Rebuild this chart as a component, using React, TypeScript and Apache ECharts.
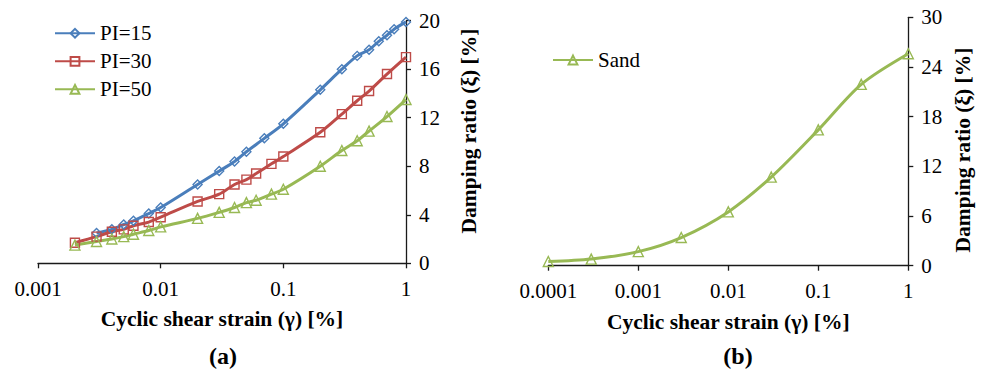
import React, { useEffect, useRef } from "react";
import * as echarts from "echarts";

const strainPI15 = [0.003, 0.004, 0.005, 0.006, 0.008, 0.01, 0.02, 0.03, 0.04, 0.05, 0.07, 0.1, 0.2, 0.3, 0.4, 0.5, 0.6, 0.7, 0.8, 1];
const dampPI15 = [2.5, 2.8, 3.2, 3.5, 4.1, 4.6, 6.5, 7.6, 8.4, 9.2, 10.3, 11.5, 14.3, 16.0, 17.1, 17.6, 18.3, 18.8, 19.3, 19.9];

const strainPI30 = [0.002, 0.003, 0.004, 0.005, 0.006, 0.008, 0.01, 0.02, 0.03, 0.04, 0.05, 0.06, 0.08, 0.1, 0.2, 0.3, 0.4, 0.5, 0.7, 1];
const dampPI30 = [1.7, 2.2, 2.6, 2.8, 3.1, 3.4, 3.8, 5.1, 5.7, 6.5, 6.9, 7.4, 8.2, 8.8, 10.8, 12.3, 13.4, 14.2, 15.6, 17.0];

const strainPI50 = [0.002, 0.003, 0.004, 0.005, 0.006, 0.008, 0.01, 0.02, 0.03, 0.04, 0.05, 0.06, 0.08, 0.1, 0.2, 0.3, 0.4, 0.5, 0.7, 1];
const dampPI50 = [1.5, 1.8, 2.0, 2.2, 2.4, 2.7, 3.0, 3.7, 4.2, 4.6, 5.0, 5.2, 5.7, 6.1, 8.0, 9.3, 10.1, 10.9, 12.1, 13.5];

const strainSand = [0.0001, 0.0003, 0.001, 0.003, 0.01, 0.03, 0.1, 0.3, 1];
const dampSand = [0.5, 0.8, 1.7, 3.4, 6.5, 10.7, 16.4, 21.9, 25.6];

const seriesNamesA = ["PI=15", "PI=30", "PI=50"];
const seriesNameB = "Sand";
const xAxisTitle = "Cyclic shear strain (γ) [%]";
const yAxisTitle = "Damping ratio (ξ) [%]";
const panelLabels = ["(a)", "(b)"];

const SERIF = "Liberation Serif";
const AXIS_COLOR = "#1a1a1a";
const BLUE = "#4A7EBB";
const RED = "#BE4B48";
const GREEN = "#98B954";

const zip = (xs: number[], ys: number[]) => xs.map((x, i) => [x, ys[i]]);

const fmtLog = (v: number) => String(Number(v.toPrecision(6)));

function xAxisCfg(gridIndex: number, min: number, max: number) {
  return {
    type: "log",
    logBase: 10,
    gridIndex,
    min,
    max,
    name: xAxisTitle,
    nameLocation: "middle",
    nameGap: 45,
    nameTextStyle: { fontFamily: SERIF, fontWeight: "bold", fontSize: 21.5, color: "#000" },
    axisLine: { show: true, lineStyle: { color: AXIS_COLOR, width: 1.3 } },
    axisTick: { show: true, inside: false, length: 5, lineStyle: { color: AXIS_COLOR, width: 1.3 } },
    minorTick: { show: false },
    splitLine: { show: false },
    axisLabel: { fontFamily: SERIF, fontSize: 21, color: "#000", margin: 15, formatter: fmtLog },
  };
}

function yAxisCfg(gridIndex: number, max: number, interval: number) {
  return {
    type: "value",
    gridIndex,
    position: "right",
    min: 0,
    max,
    interval,
    axisLine: { show: true, lineStyle: { color: AXIS_COLOR, width: 1.3 } },
    axisTick: { show: true, inside: false, length: 5, lineStyle: { color: AXIS_COLOR, width: 1.3 } },
    splitLine: { show: false },
    axisLabel: { fontFamily: SERIF, fontSize: 21, color: "#000", margin: 13 },
  };
}

function lineSeries(name: string, data: number[][], color: string, symbol: string, idx: number, size: number) {
  return {
    type: "line",
    name,
    data,
    xAxisIndex: idx,
    yAxisIndex: idx,
    smooth: 0.3,
    symbol,
    symbolSize: size,
    showAllSymbol: true,
    color,
    lineStyle: { color, width: 3 },
    itemStyle: { color: "rgba(255,255,255,0)", borderColor: color, borderWidth: 1.4 },
    emphasis: { disabled: true },
  };
}

export default function App() {
  const ref = useRef<HTMLDivElement>(null);
  useEffect(() => {
    const el = ref.current;
    if (!el) return;
    const chart = echarts.init(el, null, { renderer: "svg" });
    const legendText = { fontFamily: SERIF, fontSize: 21, color: "#000" };
    chart.setOption({
      animation: false,
      backgroundColor: "#fff",
      textStyle: { fontFamily: SERIF },
      grid: [
        { left: 38, top: 20.7, width: 368, height: 242.6, containLabel: false },
        { left: 548.3, top: 17.3, width: 360, height: 248.4, containLabel: false },
      ],
      xAxis: [xAxisCfg(0, 0.001, 1), xAxisCfg(1, 0.0001, 1)],
      yAxis: [yAxisCfg(0, 20, 4), yAxisCfg(1, 30, 6)],
      legend: [
        {
          data: seriesNamesA,
          orient: "vertical",
          left: 54,
          top: 22.8,
          padding: 0,
          itemWidth: 40,
          itemHeight: 11,
          itemGap: 7,
          textStyle: legendText,
          selectedMode: false,
        },
        {
          data: [seriesNameB],
          orient: "vertical",
          left: 552,
          top: 49.5,
          padding: 0,
          itemWidth: 40,
          itemHeight: 11,
          textStyle: legendText,
          selectedMode: false,
        },
      ],
      series: [
        lineSeries(seriesNamesA[0], zip(strainPI15, dampPI15), BLUE, "diamond", 0, 9),
        lineSeries(seriesNamesA[1], zip(strainPI30, dampPI30), RED, "rect", 0, 9),
        lineSeries(seriesNamesA[2], zip(strainPI50, dampPI50), GREEN, "triangle", 0, 10),
        lineSeries(seriesNameB, zip(strainSand, dampSand), GREEN, "triangle", 1, 10),
      ],
      graphic: [
        {
          type: "text",
          x: 469,
          y: 131,
          rotation: Math.PI / 2,
          style: { text: yAxisTitle, fontFamily: SERIF, fontWeight: "bold", fontSize: 21.5, fill: "#000", align: "center", verticalAlign: "middle" },
        },
        {
          type: "text",
          x: 963,
          y: 150,
          rotation: Math.PI / 2,
          style: { text: yAxisTitle, fontFamily: SERIF, fontWeight: "bold", fontSize: 21.5, fill: "#000", align: "center", verticalAlign: "middle" },
        },
        {
          type: "text",
          x: 223,
          y: 356,
          style: { text: panelLabels[0], fontFamily: SERIF, fontWeight: "bold", fontSize: 24, fill: "#000", align: "center", verticalAlign: "middle" },
        },
        {
          type: "text",
          x: 738,
          y: 356,
          style: { text: panelLabels[1], fontFamily: SERIF, fontWeight: "bold", fontSize: 24, fill: "#000", align: "center", verticalAlign: "middle" },
        },
      ],
    });
    return () => chart.dispose();
  }, []);
  return <div ref={ref} style={{ position: "absolute", left: 0, top: 0, width: 983, height: 374 }} />;
}
